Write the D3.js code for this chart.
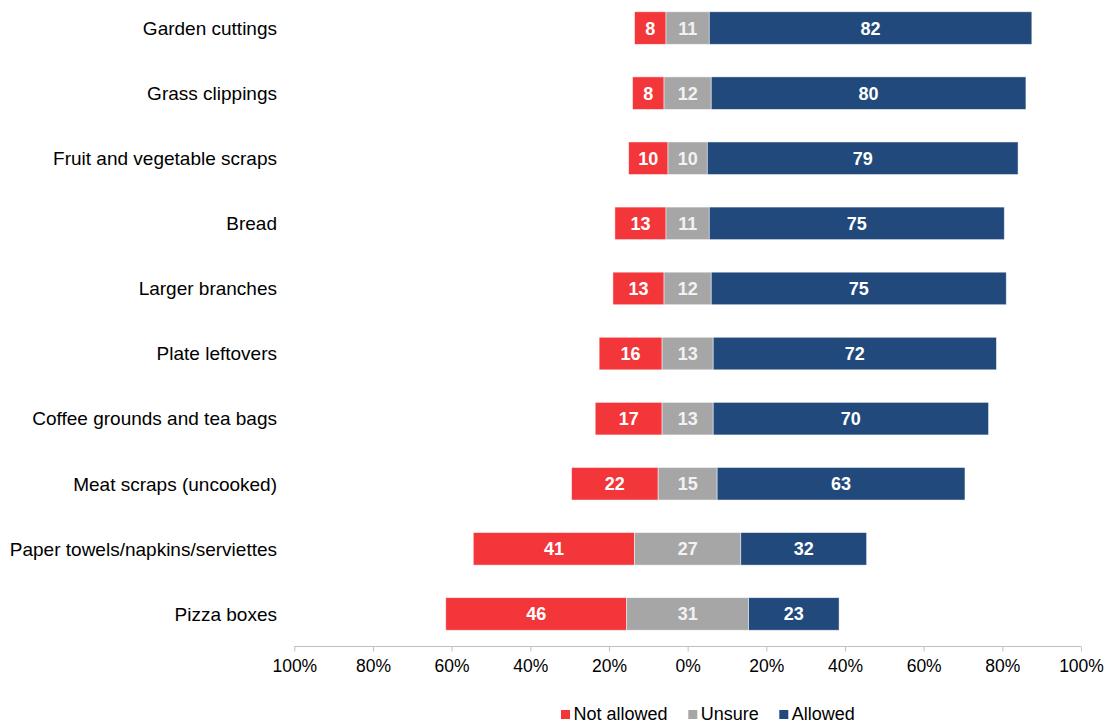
<!DOCTYPE html>
<html>
<head>
<meta charset="utf-8">
<script src="https://cdn.jsdelivr.net/npm/d3@7"></script>
<style>
  html, body { margin: 0; padding: 0; background: #fff; }
  svg { display: block; font-family: "Liberation Sans", Arial, sans-serif; }
</style>
</head>
<body>
<svg id="chart" width="1106" height="724"></svg>
<script>
// Survey items and shares (%) of responses
const categories = [
  "Garden cuttings",
  "Grass clippings",
  "Fruit and vegetable scraps",
  "Bread",
  "Larger branches",
  "Plate leftovers",
  "Coffee grounds and tea bags",
  "Meat scraps (uncooked)",
  "Paper towels/napkins/serviettes",
  "Pizza boxes"
];
const notAllowed = [8, 8, 10, 13, 13, 16, 17, 22, 41, 46];
const unsure     = [11, 12, 10, 11, 12, 13, 13, 15, 27, 31];
const allowed    = [82, 80, 79, 75, 75, 72, 70, 63, 32, 23];
const tickValues = [-100, -80, -60, -40, -20, 0, 20, 40, 60, 80, 100];
const seriesNames = ["Not allowed", "Unsure", "Allowed"];
const seriesColors = ["#f3363a", "#a6a6a6", "#22497c"];

const svg = d3.select("#chart");

const x = d3.scaleLinear().domain([-100, 100]).range([294.3, 1081]);
const y = d3.scaleBand().domain(categories)
  .range([-4.5, 646.5]).paddingInner(0.5).paddingOuter(0.25);

// Diverging layout: "Unsure" centred on zero, "Not allowed" to the left, "Allowed" to the right
const rows = categories.map((c, i) => {
  const half = unsure[i] / 2;
  return {
    cat: c,
    segs: [
      { s: 0, v: notAllowed[i], x0: -half - notAllowed[i], x1: -half },
      { s: 1, v: unsure[i], x0: -half, x1: half },
      { s: 2, v: allowed[i], x0: half, x1: half + allowed[i] }
    ]
  };
});

const row = svg.append("g").selectAll("g").data(rows).join("g")
  .attr("transform", d => `translate(0,${y(d.cat)})`);

row.selectAll("rect").data(d => d.segs).join("rect")
  .attr("x", d => x(d.x0))
  .attr("width", d => x(d.x1) - x(d.x0))
  .attr("y", 0)
  .attr("height", y.bandwidth())
  .attr("fill", d => seriesColors[d.s])
  .attr("stroke", "#ffffff")
  .attr("stroke-opacity", 0.6)
  .attr("stroke-width", 0.8);

row.selectAll("text").data(d => d.segs).join("text")
  .attr("x", d => (x(d.x0) + x(d.x1)) / 2)
  .attr("y", y.bandwidth() / 2)
  .attr("dy", "0.36em")
  .attr("text-anchor", "middle")
  .attr("font-size", 18)
  .attr("font-weight", "bold")
  .attr("fill", d => d.s === 1 ? "#f2f2f2" : "#ffffff")
  .text(d => d.v);

// Category labels
svg.append("g").selectAll("text").data(categories).join("text")
  .attr("x", 277)
  .attr("y", d => y(d) + y.bandwidth() / 2)
  .attr("dy", "0.36em")
  .attr("text-anchor", "end")
  .attr("font-size", 19)
  .attr("fill", "#000")
  .text(d => d);

// Bottom axis
const axis = d3.axisBottom(x)
  .tickValues(tickValues)
  .tickSize(5)
  .tickPadding(8)
  .tickFormat(d => Math.abs(d) + "%");
const gx = svg.append("g").attr("transform", "translate(0,646.5)").call(axis);
gx.select(".domain").attr("stroke", "#bfbfbf").attr("d", `M${x(-100)},0H${x(100)}`);
gx.selectAll(".tick line").attr("stroke", "#bfbfbf");
gx.selectAll(".tick text").attr("font-size", 17.5).attr("fill", "#000")
  .attr("font-family", "Liberation Sans, Arial, sans-serif");

// Legend
const legendX = [561, 688.3, 779.3];
const lg = svg.append("g").selectAll("g").data(seriesNames).join("g")
  .attr("transform", (d, i) => `translate(${legendX[i]},710)`);
lg.append("rect").attr("width", 9).attr("height", 9)
  .attr("fill", (d, i) => seriesColors[i]);
lg.append("text").attr("x", 12.5).attr("y", 9.8)
  .attr("font-size", 18).attr("fill", "#000").text(d => d);
</script>
</body>
</html>
